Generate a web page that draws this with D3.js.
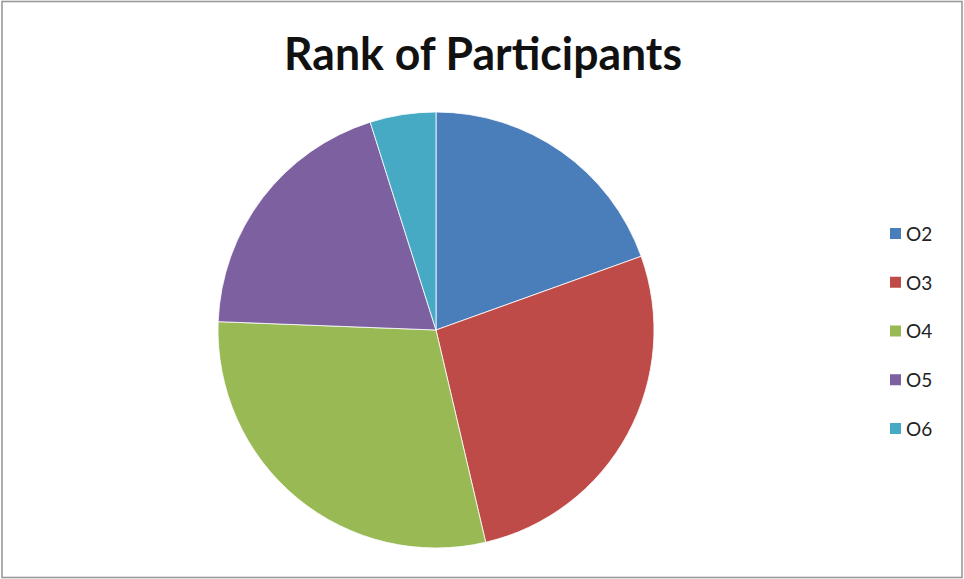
<!DOCTYPE html>
<html>
<head>
<meta charset="utf-8">
<script src="https://cdn.jsdelivr.net/npm/d3@7/dist/d3.min.js"></script>
<style>
  html, body { margin: 0; padding: 0; background: #fff; }
  svg { display: block; }
</style>
</head>
<body>
<svg id="chart" width="964" height="579"></svg>
<script>
// Participants per rank
const categories = ["O2", "O3", "O4", "O5", "O6"];
const counts = [8, 11, 12, 8, 2];
const colors = ["#4a7ebb", "#be4b48", "#98b954", "#7d60a0", "#46aac5"];
const title = "Rank of Participants";

const svg = d3.select("#chart");

// chart frame
svg.append("rect")
  .attr("x", 2).attr("y", 1.5)
  .attr("width", 960).attr("height", 576)
  .attr("fill", "#fff")
  .attr("stroke", "#9a9a9a")
  .attr("stroke-width", 1.6);

svg.append("text")
  .attr("x", 483).attr("y", 70)
  .attr("text-anchor", "middle")
  .attr("font-family", "Lato, 'Open Sans', sans-serif")
  .attr("font-weight", "bold")
  .attr("font-size", 46)
  .attr("fill", "#111")
  .attr("textLength", 398)
  .attr("lengthAdjust", "spacingAndGlyphs")
  .text(title);

const color = d3.scaleOrdinal().domain(categories).range(colors);

const pie = d3.pie().sort(null).value(d => d.value);
const arcs = pie(categories.map((c, i) => ({ name: c, value: counts[i] })));
const arc = d3.arc().innerRadius(0).outerRadius(218);

const g = svg.append("g").attr("transform", "translate(436,330)");
g.selectAll("path")
  .data(arcs)
  .join("path")
  .attr("d", arc)
  .attr("fill", d => color(d.data.name))
  .attr("stroke", "#fff")
  .attr("stroke-width", 0.8);

// legend
const legendY = d3.scalePoint().domain(categories).range([234, 429]);
const legend = svg.append("g");
const item = legend.selectAll("g")
  .data(categories)
  .join("g")
  .attr("transform", d => `translate(890,${legendY(d)})`);
item.append("rect")
  .attr("x", 0).attr("y", -6)
  .attr("width", 11).attr("height", 11)
  .attr("fill", d => color(d));
item.append("text")
  .attr("x", 16).attr("y", 0)
  .attr("dy", "0.36em")
  .attr("font-family", "Lato, 'Open Sans', sans-serif")
  .attr("font-size", 19)
  .attr("fill", "#222")
  .text(d => d);
</script>
</body>
</html>
